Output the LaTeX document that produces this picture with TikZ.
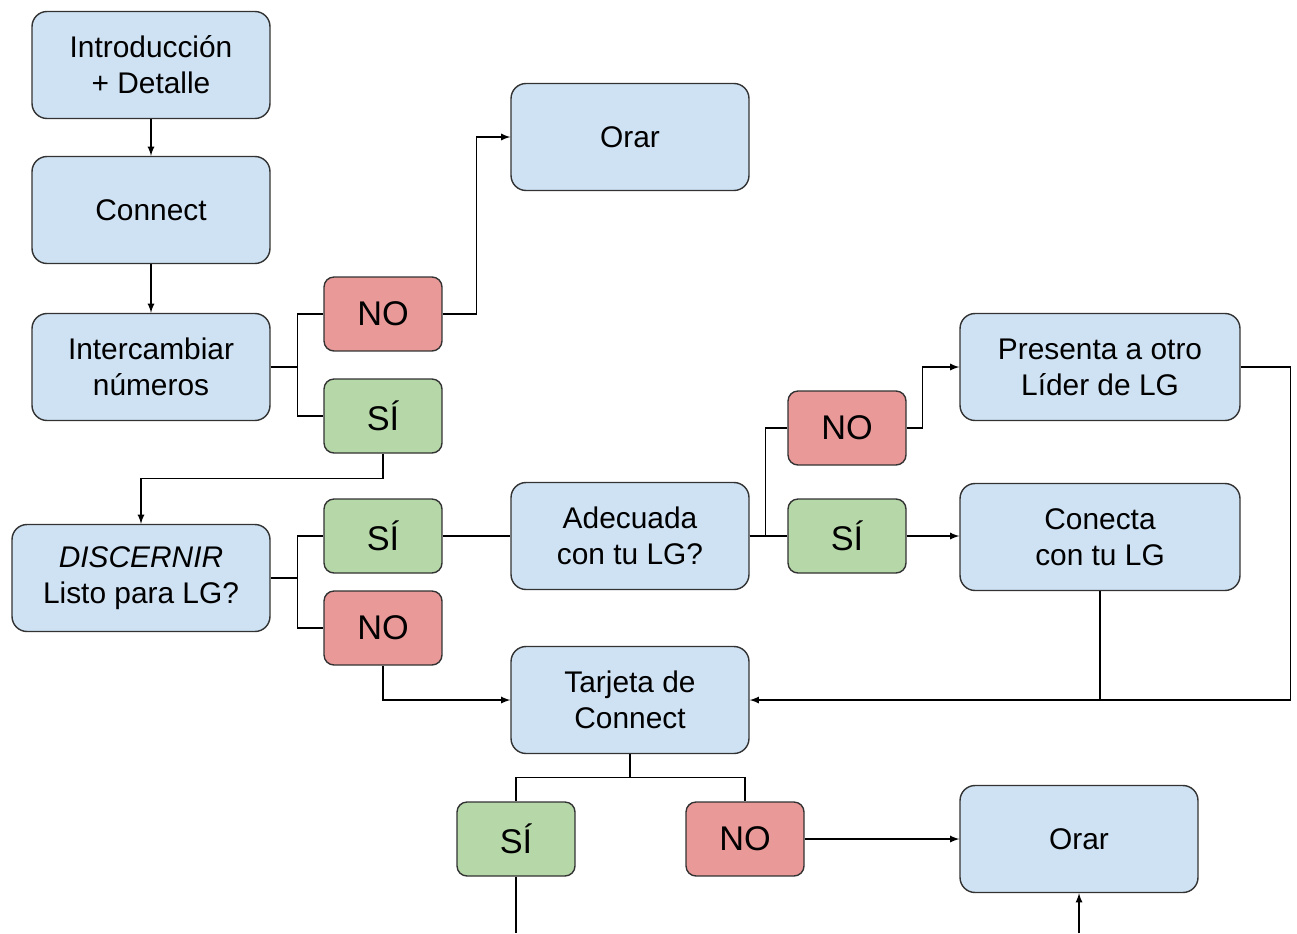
\documentclass[tikz,border=0pt]{standalone}
\usepackage{fontspec}
\setmainfont{Liberation Sans}
\usetikzlibrary{shapes.geometric, arrows}

\begin{document}
\begin{tikzpicture}[x=0.02cm, y=-0.02cm]
\tikzstyle{step_box}=[rectangle, rounded corners=0.3cm, draw=black!80, fill=blue!8!cyan!6, thick, align=center, inner sep=0pt, minimum width=4.76cm, minimum height=2.14cm, font=\fontsize{17}{20.4}\selectfont];
\tikzstyle{wide_box}=[step_box, minimum width=5.6cm];
\tikzstyle{answer_no}=[rectangle, rounded corners=0.2cm, draw=black!80, fill=red!45!white, thick, inner sep=0pt, minimum width=2.36cm, minimum height=1.48cm, font=\fontsize{19.5}{23}\selectfont];
\tikzstyle{answer_si}=[answer_no, fill=green!40!black!10!white];
\tikzstyle{arrow} = [->, >=latex, thick]
\tikzstyle{line} = [thick]

\definecolor{stepblue}{HTML}{CFE2F3}
\definecolor{nored}{HTML}{EA9999}
\definecolor{sigreen}{HTML}{B6D7A8}

\useasboundingbox (0,0) rectangle (1297,933);

\node [step_box, fill=stepblue] at (151,65) (Introduccion) {Introducción\\+ Detalle};
\node [step_box, fill=stepblue] at (151,210) (Connect) {Connect};
\node [step_box, fill=stepblue] at (151,367) (Intercambiar) {Intercambiar\\números};
\node [answer_no, fill=nored] at (383,314) (NO 1) {NO};
\node [answer_si, fill=sigreen] at (383,416) (SI 1) {SÍ};
\node [step_box, fill=stepblue] at (630,137) (Orar 1) {Orar};
\node [step_box, fill=stepblue, minimum width=5.16cm] at (141,578) (Discernir) {\textit{DISCERNIR}\\Listo para LG?};
\node [answer_si, fill=sigreen] at (383,536) (SI 2) {SÍ};
\node [answer_no, fill=nored] at (383,628) (NO 2) {NO};
\node [step_box, fill=stepblue] at (630,536) (Adecuada) {Adecuada\\con tu LG?};
\node [answer_no, fill=nored] at (847,428) (NO 3) {NO};
\node [answer_si, fill=sigreen] at (847,536) (SI 3) {SÍ};
\node [wide_box, fill=stepblue] at (1100,367) (Presenta) {Presenta a otro\\Líder de LG};
\node [wide_box, fill=stepblue] at (1100,537) (Conecta) {Conecta\\con tu LG};
\node [step_box, fill=stepblue] at (630,700) (Tarjeta) {Tarjeta de\\Connect};
\node [answer_si, fill=sigreen] at (516,839) (SI 4) {SÍ};
\node [answer_no, fill=nored] at (745,839) (NO 4) {NO};
\node [step_box, fill=stepblue] at (1079,839) (Orar 2) {Orar};

\coordinate (Bottom SI) at (516,933);
\coordinate (Bottom Orar) at (1079,933);

\draw[arrow] (Introduccion) -- (Connect);
\draw[arrow] (Connect) -- (Intercambiar);

\draw[line] (Intercambiar.east) -- ++(27,0) |- (NO 1);
\draw[line] (Intercambiar.east) -- ++(27,0) |- (SI 1);
\draw[arrow] (NO 1.east) -- ++(34,0) |- (Orar 1);
\draw[arrow] (SI 1.south) -- ++(0,25) -| (Discernir);

\draw[line] (Discernir.east) -- ++(27,0) |- (SI 2);
\draw[line] (Discernir.east) -- ++(27,0) |- (NO 2);
\draw[line] (SI 2) -- (Adecuada);
\draw[arrow] (NO 2) |- (Tarjeta);

\draw[line] (Adecuada.east) -- (SI 3);
\draw[line] (Adecuada.east) -- ++(16,0) |- (NO 3);
\draw[arrow] (NO 3.east) -- ++(16,0) |- (Presenta);
\draw[arrow] (SI 3.east) -- (SI 3.east -| Conecta.west);

\draw[arrow] (Presenta.east) -- ++(50,0) |- (Tarjeta);
\draw[line] (Conecta.south) -- (Conecta.south |- Tarjeta.east);

\draw[line] (Tarjeta.south) -- ++(0,23) -| (SI 4);
\draw[line] (Tarjeta.south) -- ++(0,23) -| (NO 4);
\draw[line] (SI 4) -- (Bottom SI);
\draw[arrow] (NO 4) -- (Orar 2);
\draw[arrow] (Bottom Orar) -- (Orar 2);

\end{tikzpicture}
\end{document}
